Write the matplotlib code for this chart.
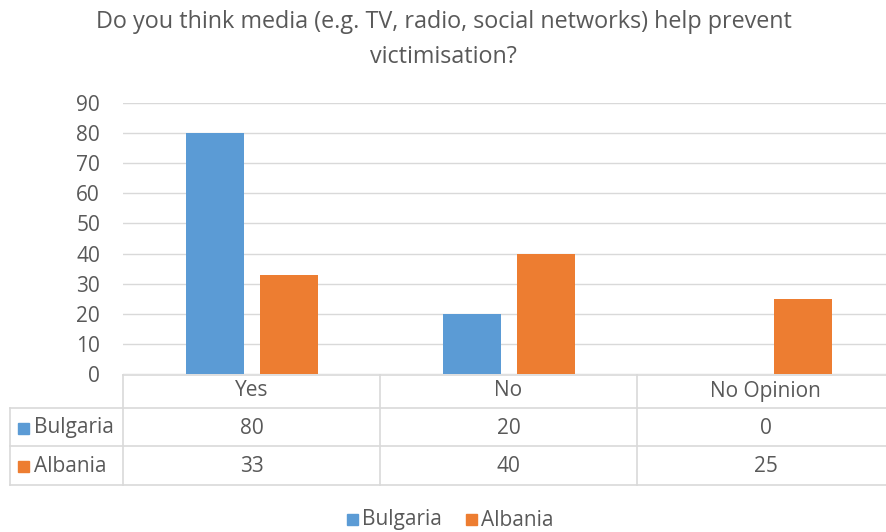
import matplotlib.pyplot as plt
from matplotlib.patches import Rectangle
from matplotlib.lines import Line2D

categories = ["Yes", "No", "No Opinion"]
series_names = ["Bulgaria", "Albania"]
bulgaria = [80, 20, 0]
albania = [33, 40, 25]
y_ticks = [0, 10, 20, 30, 40, 50, 60, 70, 80, 90]

BLUE = "#5B9BD5"
ORANGE = "#ED7D31"
TEXT = "#595959"
GRID = "#D9D9D9"
FS = 15

plt.rcParams["font.family"] = ["Open Sans", "DejaVu Sans"]

W, H = 887, 532
fig = plt.figure(figsize=(W / 100, H / 100), dpi=100)

# pixel helpers (origin top-left)
def fx(px):
    return px / W

def fy(py):
    return 1 - py / H

x_left, x_right = 123, 894
y_top, y_zero = 103, 374

ax = fig.add_axes([fx(x_left), fy(y_zero), fx(x_right) - fx(x_left), fy(y_top) - fy(y_zero)])
xs = range(len(categories))
bw = 0.226
ax.bar([x - 0.143 for x in xs], bulgaria, width=bw, color=BLUE, zorder=3)
ax.bar([x + 0.147 for x in xs], albania, width=bw, color=ORANGE, zorder=3)
ax.set_xlim(-0.5, len(categories) - 0.5)
ax.set_ylim(0, 90)
ax.set_yticks(y_ticks)
ax.yaxis.grid(True, color=GRID, linewidth=1, zorder=0)
ax.set_xticks([])
ax.tick_params(axis="y", length=0, labelsize=FS, labelcolor=TEXT, pad=16.5)
for s in ax.spines.values():
    s.set_visible(False)

# title
fig.text(0.5, fy(22), "Do you think media (e.g. TV, radio, social networks) help prevent",
         ha="center", va="center", fontsize=16.8, color=TEXT)
fig.text(0.5, fy(57), "victimisation?", ha="center", va="center", fontsize=16.8, color=TEXT)

# data table
col_edges = [10, 123, 380, 637, 894]
row_edges = [375, 408, 446, 485]

def hline(py, x0, x1):
    fig.add_artist(Line2D([fx(x0), fx(x1)], [fy(py), fy(py)], color=GRID, lw=1.2))

def vline(px, y0, y1):
    fig.add_artist(Line2D([fx(px), fx(px)], [fy(y0), fy(y1)], color=GRID, lw=1.2))

hline(row_edges[0], col_edges[1], col_edges[-1])
for r in row_edges[1:]:
    hline(r, col_edges[0], col_edges[-1])
vline(col_edges[0], row_edges[1], row_edges[-1])
for c in col_edges[1:-1]:
    vline(c, row_edges[0], row_edges[-1])

for i, cat in enumerate(categories):
    cx = (col_edges[i + 1] + col_edges[i + 2]) / 2
    fig.text(fx(cx), fy(391), cat, ha="center", va="center", fontsize=FS, color=TEXT)
    fig.text(fx(cx), fy(428), str(bulgaria[i]), ha="center", va="center", fontsize=FS, color=TEXT)
    fig.text(fx(cx), fy(466), str(albania[i]), ha="center", va="center", fontsize=FS, color=TEXT)

for name, color, py in [(series_names[0], BLUE, 428), (series_names[1], ORANGE, 466)]:
    fig.add_artist(Rectangle((fx(18), fy(py + 5.5)), fx(11), 11 / H, color=color,
                             transform=fig.transFigure))
    fig.text(fx(34), fy(py), name, ha="left", va="center", fontsize=FS, color=TEXT)

# legend
for name, color, sx in [(series_names[0], BLUE, 347), (series_names[1], ORANGE, 466)]:
    fig.add_artist(Rectangle((fx(sx), fy(525)), fx(11), 11 / H, color=color,
                             transform=fig.transFigure))
    fig.text(fx(sx + 15), fy(520), name, ha="left", va="center", fontsize=FS, color=TEXT)

fig.savefig("out.png", dpi=100, facecolor="white")
